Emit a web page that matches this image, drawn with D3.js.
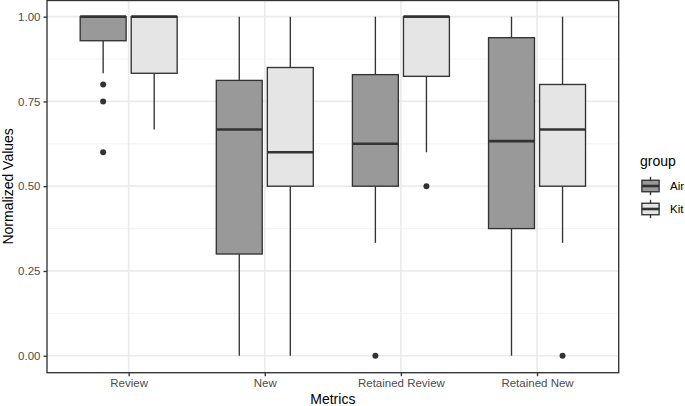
<!DOCTYPE html>
<html><head><meta charset="utf-8">
<script src="https://cdn.jsdelivr.net/npm/d3@7"></script>
<style>body{margin:0;background:#fff}svg{display:block}</style>
</head><body>
<script>
const categories = ["Review", "New", "Retained Review", "Retained New"];
const groups = ["Air", "Kit"];
const yTicks = [0, 0.25, 0.5, 0.75, 1];
// Air statistics per category
const airLower = [0.833, 0, 0.333, 0];
const airQ1 = [0.929, 0.3, 0.5, 0.375];
const airMedian = [1, 0.667, 0.625, 0.633];
const airQ3 = [1, 0.812, 0.829, 0.938];
const airUpper = [1, 1, 1, 1];
const airOutliers = [[0.8, 0.75, 0.6], [], [0], []];
// Kit statistics per category
const kitLower = [0.667, 0, 0.6, 0.333];
const kitQ1 = [0.833, 0.5, 0.824, 0.5];
const kitMedian = [1, 0.6, 1, 0.667];
const kitQ3 = [1, 0.85, 1, 0.8];
const kitUpper = [1, 1, 1, 1];
const kitOutliers = [[], [], [0.5], [0]];

const fills = {Air: "#999999", Kit: "#e5e5e5"};
const line = "#333333";
const W = 685, H = 406;
const P = {l: 47, r: 618.7, t: 0, b: 372.7};
const lw = 1.35, mw = 2.6;

const svg = d3.select("body").append("svg").attr("width", W).attr("height", H)
  .style("font-family", "'Liberation Sans', Arial, sans-serif");

const x = d3.scaleLinear().domain([-0.6, categories.length - 0.4]).range([P.l, P.r]);
const y = d3.scaleLinear().domain([-0.05, 1.05]).range([P.b, P.t - 0.3]);
const bw = x(1) - x(0);

// grid
const g = svg.append("g");
const minor = [0.125, 0.375, 0.625, 0.875];
g.selectAll(".mn").data(minor).enter().append("line")
  .attr("x1", P.l).attr("x2", P.r).attr("y1", d => y(d)).attr("y2", d => y(d))
  .attr("stroke", "#f3f3f3").attr("stroke-width", 0.9);
g.selectAll(".mj").data(yTicks).enter().append("line")
  .attr("x1", P.l).attr("x2", P.r).attr("y1", d => y(d)).attr("y2", d => y(d))
  .attr("stroke", "#ebebeb").attr("stroke-width", 1.7);
g.selectAll(".mx").data(categories).enter().append("line")
  .attr("x1", (d, i) => x(i)).attr("x2", (d, i) => x(i)).attr("y1", P.t).attr("y2", P.b)
  .attr("stroke", "#ebebeb").attr("stroke-width", 1.7);

// boxes
const stats = {
  Air: {lo: airLower, q1: airQ1, md: airMedian, q3: airQ3, hi: airUpper, out: airOutliers},
  Kit: {lo: kitLower, q1: kitQ1, md: kitMedian, q3: kitQ3, hi: kitUpper, out: kitOutliers}
};
const slot = 0.75 / groups.length;
const boxW = slot * 0.9 * bw;
groups.forEach((grp, gi) => {
  const s = stats[grp];
  categories.forEach((c, i) => {
    const cx = x(i - 0.375 + slot * (gi + 0.5));
    const bg = svg.append("g");
    bg.append("line").attr("x1", cx).attr("x2", cx).attr("y1", y(s.hi[i])).attr("y2", y(s.q3[i]))
      .attr("stroke", line).attr("stroke-width", lw);
    bg.append("line").attr("x1", cx).attr("x2", cx).attr("y1", y(s.q1[i])).attr("y2", y(s.lo[i]))
      .attr("stroke", line).attr("stroke-width", lw);
    bg.append("rect").attr("x", cx - boxW / 2).attr("width", boxW)
      .attr("y", y(s.q3[i])).attr("height", y(s.q1[i]) - y(s.q3[i]))
      .attr("fill", fills[grp]).attr("stroke", line).attr("stroke-width", lw);
    bg.append("line").attr("x1", cx - boxW / 2).attr("x2", cx + boxW / 2)
      .attr("y1", y(s.md[i])).attr("y2", y(s.md[i]))
      .attr("stroke", line).attr("stroke-width", mw);
    bg.selectAll("circle").data(s.out[i]).enter().append("circle")
      .attr("cx", cx).attr("cy", d => y(d)).attr("r", 3).attr("fill", line);
  });
});

// border
svg.append("rect").attr("x", P.l).attr("y", P.t + 0.5).attr("width", P.r - P.l).attr("height", P.b - P.t - 0.5)
  .attr("fill", "none").attr("stroke", line).attr("stroke-width", lw);

// axes
const ya = svg.append("g").attr("transform", `translate(${P.l},0)`)
  .call(d3.axisLeft(y).tickValues(yTicks).tickFormat(d3.format(".2f")).tickSize(3.5).tickPadding(3));
const xa = svg.append("g").attr("transform", `translate(0,${P.b})`)
  .call(d3.axisBottom(x).tickValues(d3.range(categories.length)).tickFormat(i => categories[i]).tickSize(3.5).tickPadding(3));
[ya, xa].forEach(a => {
  a.select(".domain").remove();
  a.selectAll(".tick line").attr("stroke", line).attr("stroke-width", lw);
  a.selectAll(".tick text").attr("fill", "#4d4d4d").style("font-size", "11.5px")
    .style("font-family", "'Liberation Sans', Arial, sans-serif");
});

// titles
svg.append("text").attr("x", (P.l + P.r) / 2).attr("y", 404).attr("text-anchor", "middle")
  .style("font-size", "14px").text("Metrics");
svg.append("text").attr("transform", `translate(13,${(P.t + P.b) / 2}) rotate(-90)`)
  .attr("text-anchor", "middle").style("font-size", "14px").text("Normalized Values");

// legend
const lg = svg.append("g").attr("transform", "translate(639,0)");
lg.append("text").attr("x", 1).attr("y", 166).style("font-size", "14px").text("group");
groups.forEach((grp, gi) => {
  const top = 174.5 + gi * 23, ks = 23;
  const cx = ks / 2;
  const k = lg.append("g").attr("transform", `translate(0,${top})`);
  k.append("line").attr("x1", cx).attr("x2", cx).attr("y1", ks * 0.1).attr("y2", ks * 0.9)
    .attr("stroke", line).attr("stroke-width", lw);
  k.append("rect").attr("x", ks * 0.125).attr("width", ks * 0.75).attr("y", ks * 0.25).attr("height", ks * 0.5)
    .attr("fill", fills[grp]).attr("stroke", line).attr("stroke-width", lw);
  k.append("line").attr("x1", ks * 0.125).attr("x2", ks * 0.875).attr("y1", ks / 2).attr("y2", ks / 2)
    .attr("stroke", line).attr("stroke-width", mw);
  lg.append("text").attr("x", ks + 8).attr("y", top + ks / 2).attr("dy", "0.35em")
    .style("font-size", "11.5px").text(grp);
});
</script>
</body></html>
